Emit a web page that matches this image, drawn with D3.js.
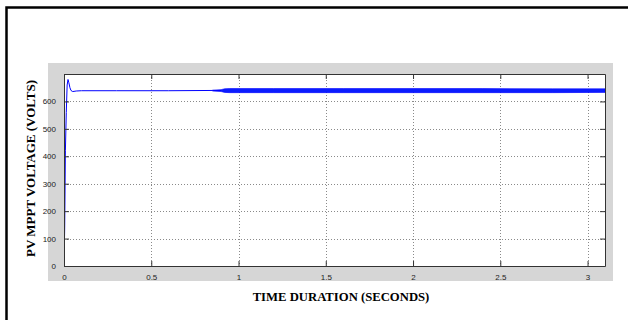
<!DOCTYPE html>
<html>
<head>
<meta charset="utf-8">
<script src="https://cdn.jsdelivr.net/npm/d3@7"></script>
<style>
  body { margin: 0; background: #fff; }
  svg { display: block; }
</style>
</head>
<body>
<div id="chart"></div>
<script>
// size of the page
var w = 628;
var h = 320;

// start-up transient and settled voltage (seconds, volts)
var timeSec = [0, 0.004, 0.008, 0.013, 0.018, 0.023, 0.028, 0.034, 0.04, 0.05, 0.07, 0.1, 0.3, 0.6, 0.85, 0.9];
var voltage = [0, 140, 420, 560, 660, 680, 668, 650, 640, 636, 638, 639, 639, 639, 640, 640];

// ripple band after ~0.9 s (upper and lower envelope)
var rippleTime = [0.85, 0.9, 0.92, 0.95, 1.2, 1.6, 2.0, 2.4, 2.8, 3.1];
var rippleHigh = [641, 643, 646, 647, 647, 647, 647, 647, 646, 646];
var rippleLow = [638, 636, 633, 632, 632, 632, 632, 632, 632, 633];

// tick labels
var xTicks = [0, 0.5, 1, 1.5, 2, 2.5, 3];
var yTicks = [0, 100, 200, 300, 400, 500, 600];

var svg = d3.select("#chart").append("svg")
  .attr("width", w)
  .attr("height", h);

// page frame
svg.append("rect")
  .attr("x", 6.5)
  .attr("y", 7.5)
  .attr("width", 700)
  .attr("height", 400)
  .attr("fill", "none")
  .attr("stroke", "#000")
  .attr("stroke-width", 2.5);

// grey figure background
svg.append("rect")
  .attr("x", 48)
  .attr("y", 63)
  .attr("width", 565)
  .attr("height", 218)
  .attr("fill", "#d6d6d6");

// plot area
var pLeft = 64, pRight = 605, pTop = 74, pBottom = 266;

var xScale = d3.scaleLinear().domain([0, 3.1]).range([pLeft, pRight]);
var yScale = d3.scaleLinear().domain([0, 700]).range([pBottom, pTop]);

svg.append("rect")
  .attr("x", pLeft)
  .attr("y", pTop)
  .attr("width", pRight - pLeft)
  .attr("height", pBottom - pTop)
  .attr("fill", "#fff");

// dotted grid
svg.selectAll(".vgrid")
  .data(xTicks.slice(1))
  .enter()
  .append("line")
  .attr("x1", function(d) { return Math.round(xScale(d)) + 0.5; })
  .attr("x2", function(d) { return Math.round(xScale(d)) + 0.5; })
  .attr("y1", pTop)
  .attr("y2", pBottom)
  .attr("stroke", "#8a8a8a")
  .attr("stroke-width", 1)
  .attr("stroke-dasharray", "1,2");

svg.selectAll(".hgrid")
  .data(yTicks.slice(1))
  .enter()
  .append("line")
  .attr("x1", pLeft)
  .attr("x2", pRight)
  .attr("y1", function(d) { return Math.round(yScale(d)) + 0.5; })
  .attr("y2", function(d) { return Math.round(yScale(d)) + 0.5; })
  .attr("stroke", "#8a8a8a")
  .attr("stroke-width", 1)
  .attr("stroke-dasharray", "1,2");

// clip for the data
svg.append("clipPath")
  .attr("id", "clip")
  .append("rect")
  .attr("x", pLeft)
  .attr("y", pTop)
  .attr("width", pRight - pLeft)
  .attr("height", pBottom - pTop);

// ripple band
var band = d3.area()
  .x(function(d, i) { return xScale(rippleTime[i]); })
  .y0(function(d, i) { return yScale(rippleLow[i]); })
  .y1(function(d, i) { return yScale(rippleHigh[i]); });

svg.append("path")
  .datum(rippleTime)
  .attr("clip-path", "url(#clip)")
  .attr("fill", "#0a1cff")
  .attr("stroke", "#0000ff")
  .attr("stroke-width", 0.6)
  .attr("d", band);

// voltage line
var line = d3.line()
  .x(function(d, i) { return xScale(timeSec[i]); })
  .y(function(d, i) { return yScale(voltage[i]); });

svg.append("path")
  .datum(timeSec)
  .attr("clip-path", "url(#clip)")
  .attr("fill", "none")
  .attr("stroke", "#0000ff")
  .attr("stroke-width", 1)
  .attr("d", line);

// axes box with inward ticks
var fmt = function(d) { return String(d); };
var xAxisB = d3.axisBottom(xScale).tickValues(xTicks).tickFormat(fmt).tickSizeInner(-5).tickSizeOuter(0).tickPadding(8);
var xAxisT = d3.axisTop(xScale).tickValues(xTicks).tickSizeInner(-5).tickSizeOuter(0).tickFormat("");
var yAxisL = d3.axisLeft(yScale).tickValues(yTicks).tickFormat(fmt).tickSizeInner(-5).tickSizeOuter(0).tickPadding(8);
var yAxisR = d3.axisRight(yScale).tickValues(yTicks).tickSizeInner(-5).tickSizeOuter(0).tickFormat("");

function styleAxis(g) {
  g.select(".domain").attr("stroke", "#333");
  g.selectAll(".tick line").attr("stroke", "#333");
  g.selectAll(".tick text")
    .attr("fill", "#222")
    .style("font-family", "'Liberation Sans', Arial, sans-serif")
    .style("font-size", "8px");
}

svg.append("g").attr("transform", "translate(0," + pBottom + ")").call(xAxisB).call(styleAxis);
svg.append("g").attr("transform", "translate(0," + pTop + ")").call(xAxisT).call(styleAxis);
svg.append("g").attr("transform", "translate(" + pLeft + ",0)").call(yAxisL).call(styleAxis);
svg.append("g").attr("transform", "translate(" + pRight + ",0)").call(yAxisR).call(styleAxis);

// axis titles
svg.append("text")
  .attr("x", 341)
  .attr("y", 301)
  .attr("text-anchor", "middle")
  .style("font-family", "'Liberation Serif', 'Times New Roman', serif")
  .style("font-weight", "bold")
  .style("font-size", "12.7px")
  .text("TIME DURATION (SECONDS)");

svg.append("text")
  .attr("transform", "translate(35,168.5) rotate(-90)")
  .attr("text-anchor", "middle")
  .style("font-family", "'Liberation Serif', 'Times New Roman', serif")
  .style("font-weight", "bold")
  .style("font-size", "13px")
  .text("PV MPPT VOLTAGE (VOLTS)");
</script>
</body>
</html>
